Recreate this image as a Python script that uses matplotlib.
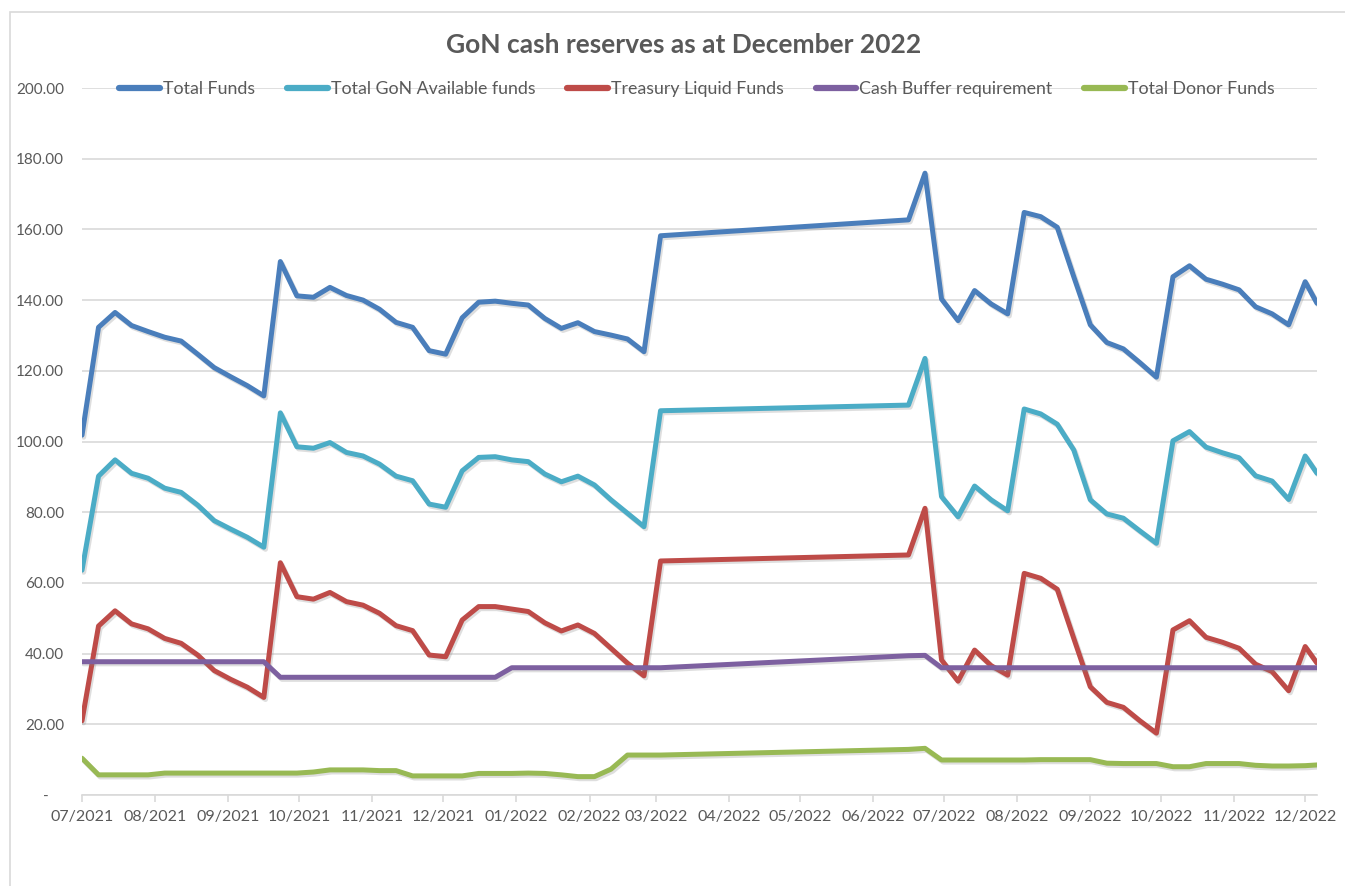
import matplotlib
matplotlib.use("Agg")
import matplotlib.pyplot as plt
import matplotlib.dates as mdates
import matplotlib.patheffects as pe
import pandas as pd

plt.rcParams['font.family'] = ['Lato', 'DejaVu Sans']

# weekly observations (gap between March and mid-June 2022)
dates = ['2021-07-01', '2021-07-08', '2021-07-15', '2021-07-22', '2021-07-29',
         '2021-08-05', '2021-08-12', '2021-08-19', '2021-08-26', '2021-09-02',
         '2021-09-09', '2021-09-16', '2021-09-23', '2021-09-30', '2021-10-07',
         '2021-10-14', '2021-10-21', '2021-10-28', '2021-11-04', '2021-11-11',
         '2021-11-18', '2021-11-25', '2021-12-02', '2021-12-09', '2021-12-16',
         '2021-12-23', '2021-12-30', '2022-01-06', '2022-01-13', '2022-01-20',
         '2022-01-27', '2022-02-03', '2022-02-10', '2022-02-17', '2022-02-24',
         '2022-03-03', '2022-06-16', '2022-06-23', '2022-06-30', '2022-07-07',
         '2022-07-14', '2022-07-21', '2022-07-28', '2022-08-04', '2022-08-11',
         '2022-08-18', '2022-08-25', '2022-09-01', '2022-09-08', '2022-09-15',
         '2022-09-22', '2022-09-29', '2022-10-06', '2022-10-13', '2022-10-20',
         '2022-10-27', '2022-11-03', '2022-11-10', '2022-11-17', '2022-11-24',
         '2022-12-01', '2022-12-06']

total_funds = [101.8, 132.3, 136.5, 132.8, 131.1, 129.5, 128.4, 124.7, 120.9, 118.3, 115.8, 112.9,
               150.9, 141.2, 140.8, 143.6, 141.3, 140.0, 137.4, 133.7, 132.3, 125.7, 124.7, 135.0,
               139.4, 139.7, 139.1, 138.6, 134.8, 132.0, 133.6, 131.1, 130.1, 129.0, 125.4, 158.2,
               162.7, 175.9, 140.3, 134.2, 142.7, 138.9, 136.1, 164.8, 163.6, 160.6, 146.6, 133.0,
               128.0, 126.2, 122.3, 118.2, 146.6, 149.7, 145.9, 144.5, 142.9, 138.1, 136.1, 133.0,
               145.2, 139.1]

gon_available = [63.6, 90.2, 94.8, 91.0, 89.6, 86.8, 85.6, 82.0, 77.6, 75.2, 72.9, 70.1,
                 108.1, 98.5, 98.1, 99.7, 96.9, 95.9, 93.6, 90.2, 88.9, 82.3, 81.4, 91.7,
                 95.5, 95.7, 94.8, 94.3, 90.8, 88.6, 90.2, 87.7, 83.5, 79.7, 75.9, 108.7,
                 110.3, 123.5, 84.4, 78.7, 87.4, 83.5, 80.4, 109.2, 107.8, 104.9, 97.6, 83.5,
                 79.5, 78.3, 74.7, 71.2, 100.2, 102.8, 98.4, 96.8, 95.4, 90.3, 88.8, 83.6,
                 95.9, 91.0]

treasury_liquid = [21.0, 47.8, 52.1, 48.4, 47.0, 44.3, 42.9, 39.6, 35.2, 32.7, 30.5, 27.6,
                   65.7, 56.1, 55.4, 57.3, 54.7, 53.7, 51.4, 47.9, 46.5, 39.6, 39.1, 49.5,
                   53.3, 53.3, 52.6, 51.9, 48.7, 46.4, 48.1, 45.7, 41.5, 37.3, 33.7, 66.2,
                   67.9, 81.1, 38.2, 32.2, 41.0, 36.6, 33.9, 62.7, 61.3, 58.2, 44.3, 30.6,
                   26.2, 24.8, 21.0, 17.5, 46.7, 49.3, 44.6, 43.2, 41.5, 37.0, 34.9, 29.5,
                   42.0, 37.3]

cash_buffer = [37.7, 37.7, 37.7, 37.7, 37.7, 37.7, 37.7, 37.7, 37.7, 37.7, 37.7, 37.7,
               33.3, 33.3, 33.3, 33.3, 33.3, 33.3, 33.3, 33.3, 33.3, 33.3, 33.3, 33.3,
               33.3, 33.3, 36.0, 36.0, 36.0, 36.0, 36.0, 36.0, 36.0, 36.0, 36.0, 36.0,
               39.4, 39.5, 36.0, 36.0, 36.0, 36.0, 36.0, 36.0, 36.0, 36.0, 36.0, 36.0,
               36.0, 36.0, 36.0, 36.0, 36.0, 36.0, 36.0, 36.0, 36.0, 36.0, 36.0, 36.0,
               36.0, 36.0]

donor_funds = [10.4, 5.7, 5.7, 5.7, 5.7, 6.2, 6.2, 6.2, 6.2, 6.2, 6.2, 6.2,
               6.2, 6.2, 6.5, 7.1, 7.1, 7.1, 6.9, 6.9, 5.4, 5.4, 5.4, 5.4,
               6.1, 6.1, 6.1, 6.2, 6.1, 5.7, 5.2, 5.2, 7.3, 11.3, 11.3, 11.3,
               12.9, 13.2, 9.9, 9.9, 9.9, 9.9, 9.9, 9.9, 10.0, 10.0, 10.0, 10.0,
               9.0, 8.9, 8.9, 8.9, 8.0, 8.0, 8.9, 8.9, 8.9, 8.4, 8.2, 8.2,
               8.3, 8.5]

series_names = ['Total Funds', 'Total GoN Available funds', 'Treasury Liquid Funds',
                'Cash Buffer requirement', 'Total Donor Funds']
colors = ['#4A7EBB', '#4BACC6', '#BE4B48', '#7D60A0', '#98B954']

x = pd.to_datetime(dates)
all_series = [total_funds, gon_available, treasury_liquid, cash_buffer, donor_funds]

fig = plt.figure(figsize=(13.45, 8.86), dpi=100)
ax = fig.add_axes([82 / 1345, 1 - 795 / 886, (1317 - 82) / 1345, (795 - 88) / 886])

# chart area border
fig.add_artist(plt.Rectangle((10 / 1345, -0.1), 1.2, (886 - 12) / 886 + 0.1,
                             transform=fig.transFigure, fill=False,
                             edgecolor='#D9D9D9', linewidth=1.2))

shadow = [pe.SimpleLineShadow(offset=(1.2, -1.5), shadow_color='#7f7f7f', alpha=0.25),
          pe.Normal()]
for vals, name, c in zip(all_series, series_names, colors):
    ax.plot(x, vals, color=c, linewidth=3.6, label=name,
            solid_joinstyle='round', solid_capstyle='round',
            path_effects=shadow, zorder=3)

ax.set_ylim(0, 200)
ax.set_yticks(range(0, 201, 20))
ax.set_yticklabels(['-    '] + ['%.2f' % v for v in range(20, 201, 20)])
ax.set_xlim(x[0], x[-1])
ax.xaxis.set_major_locator(mdates.MonthLocator())
ax.xaxis.set_major_formatter(mdates.DateFormatter('%m/%Y'))

ax.grid(axis='y', color='#D9D9D9', linewidth=1.2, zorder=0)
for s in ['top', 'right', 'left']:
    ax.spines[s].set_visible(False)
ax.spines['bottom'].set_color('#D9D9D9')
ax.spines['bottom'].set_linewidth(1.2)
ax.tick_params(axis='y', length=0, pad=13, labelsize=11, labelcolor='#595959')
ax.tick_params(axis='x', length=5, width=1.2, color='#D9D9D9', pad=6,
               labelsize=11.5, labelcolor='#595959')

fig.text(0.508, 1 - 45 / 886, 'GoN cash reserves as at December 2022',
         ha='center', va='center', fontsize=19, fontweight='bold', color='#595959')

leg_handles = [plt.Line2D([], [], color=c, linewidth=4.5, solid_capstyle='round')
               for c in colors]
fig.legend(leg_handles, series_names, loc='center', ncol=5,
           bbox_to_anchor=(697 / 1345, 1 - 89 / 886), frameon=False,
           fontsize=12.8, labelcolor='#595959', handlelength=2.3,
           handletextpad=0.15, columnspacing=1.8)

fig.savefig('out.png', dpi=100)
